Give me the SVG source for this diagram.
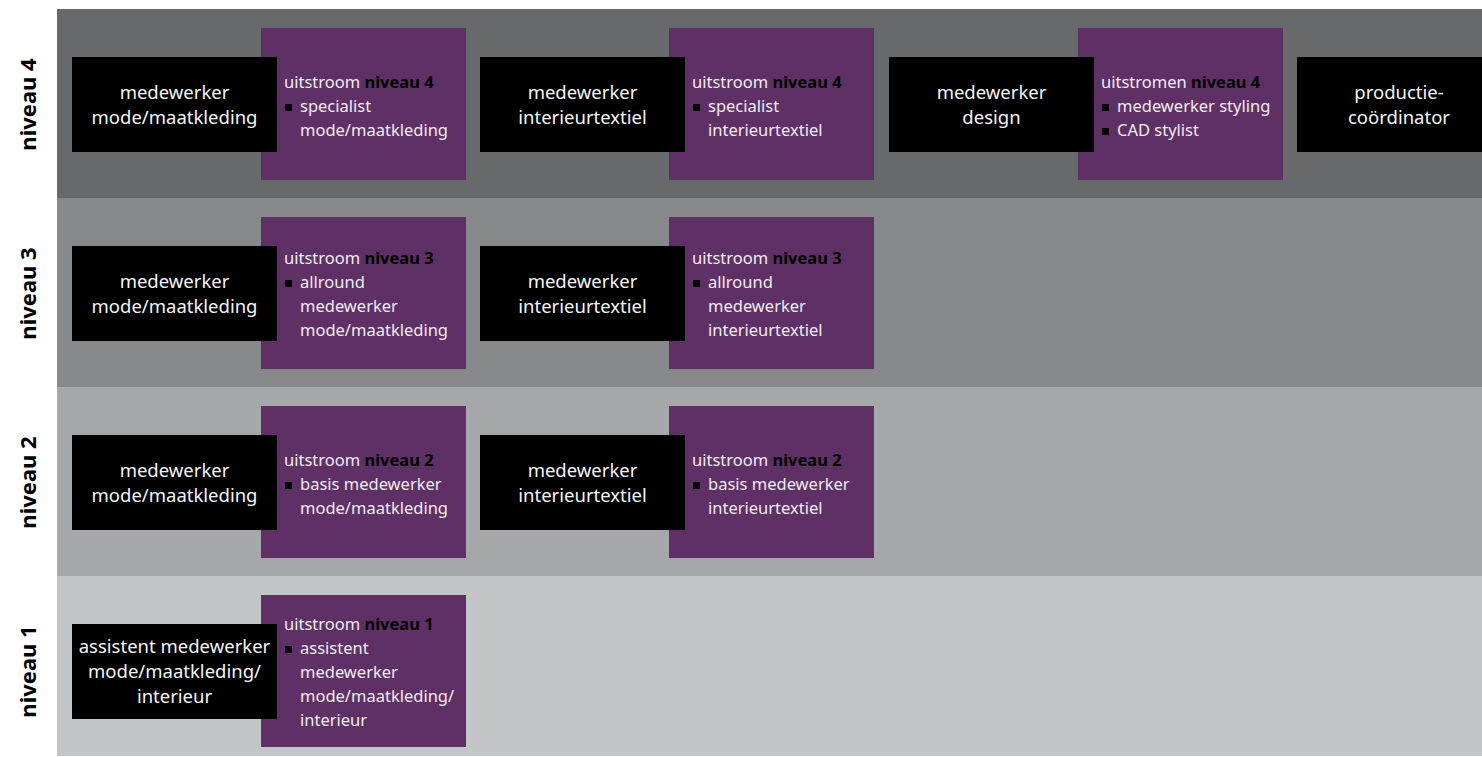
<svg xmlns="http://www.w3.org/2000/svg" width="1482" height="757" viewBox="0 0 1482 757">
<style>
.band1{fill:#68696b}.band2{fill:#87888a}.band3{fill:#a6a7a9}.band4{fill:#c4c5c7}
.blk{fill:#000}.pur{fill:#5e3065}.bul{fill:#000}
.lvl{font-family:"Noto Sans",sans-serif;font-weight:bold;font-size:22px;fill:#000;text-anchor:middle}
.bt{font-family:"Noto Sans",sans-serif;font-size:18.5px;fill:#f5f5f5;text-anchor:middle}
.pt{font-family:"Noto Sans",sans-serif;font-size:16.5px;fill:#f3ecf3}
.b{font-weight:bold;fill:#000}
</style>
<rect width="1482" height="757" fill="#fff"/>
<g id="bands">
<rect class="band1" x="57" y="9" width="1425" height="189"/>
<rect class="band2" x="57" y="198" width="1425" height="189"/>
<rect class="band3" x="57" y="387" width="1425" height="189"/>
<rect class="band4" x="57" y="576" width="1425" height="180"/>
</g>
<g id="levels">
<text class="lvl" transform="translate(36,104.5) rotate(-90)">niveau 4</text>
<text class="lvl" transform="translate(36,293.5) rotate(-90)">niveau 3</text>
<text class="lvl" transform="translate(36,482.5) rotate(-90)">niveau 2</text>
<text class="lvl" transform="translate(36,671.5) rotate(-90)">niveau 1</text>
</g>
<g id="connectors"></g>

<!-- niveau 4 -->
<g id="n4-out-mode">
<rect class="pur" x="261" y="28" width="205" height="152"/>
<text class="pt" x="284" y="88">uitstroom <tspan class="b">niveau 4</tspan></text>
<rect class="bul" x="285" y="104" width="7" height="7"/>
<text class="pt" x="300" y="112">specialist</text>
<text class="pt" x="300" y="136">mode/maatkleding</text>
</g>
<g id="n4-mode">
<rect class="blk" x="72" y="57" width="205" height="95"/>
<text class="bt" x="174.5" y="99">medewerker</text>
<text class="bt" x="174.5" y="124">mode/maatkleding</text>
</g>
<g id="n4-out-int">
<rect class="pur" x="669" y="28" width="205" height="152"/>
<text class="pt" x="692" y="88">uitstroom <tspan class="b">niveau 4</tspan></text>
<rect class="bul" x="693" y="104" width="7" height="7"/>
<text class="pt" x="708" y="112">specialist</text>
<text class="pt" x="708" y="136">interieurtextiel</text>
</g>
<g id="n4-int">
<rect class="blk" x="480" y="57" width="205" height="95"/>
<text class="bt" x="582.5" y="99">medewerker</text>
<text class="bt" x="582.5" y="124">interieurtextiel</text>
</g>
<g id="n4-out-design">
<rect class="pur" x="1078" y="28" width="205" height="152"/>
<text class="pt" x="1101" y="88">uitstromen <tspan class="b">niveau 4</tspan></text>
<rect class="bul" x="1102" y="104" width="7" height="7"/>
<text class="pt" x="1117" y="112">medewerker styling</text>
<rect class="bul" x="1102" y="128" width="7" height="7"/>
<text class="pt" x="1117" y="136">CAD stylist</text>
</g>
<g id="n4-design">
<rect class="blk" x="889" y="57" width="205" height="95"/>
<text class="bt" x="991.5" y="99">medewerker</text>
<text class="bt" x="991.5" y="124">design</text>
</g>
<g id="n4-productie">
<rect class="blk" x="1297" y="57" width="185" height="95"/>
<text class="bt" x="1399" y="99">productie-</text>
<text class="bt" x="1399" y="124">coördinator</text>
</g>

<!-- niveau 3 -->
<g id="n3-out-mode">
<rect class="pur" x="261" y="217" width="205" height="152"/>
<text class="pt" x="284" y="264">uitstroom <tspan class="b">niveau 3</tspan></text>
<rect class="bul" x="285" y="280" width="7" height="7"/>
<text class="pt" x="300" y="288">allround</text>
<text class="pt" x="300" y="312">medewerker</text>
<text class="pt" x="300" y="336">mode/maatkleding</text>
</g>
<g id="n3-mode">
<rect class="blk" x="72" y="246" width="205" height="95"/>
<text class="bt" x="174.5" y="288">medewerker</text>
<text class="bt" x="174.5" y="313">mode/maatkleding</text>
</g>
<g id="n3-out-int">
<rect class="pur" x="669" y="217" width="205" height="152"/>
<text class="pt" x="692" y="264">uitstroom <tspan class="b">niveau 3</tspan></text>
<rect class="bul" x="693" y="280" width="7" height="7"/>
<text class="pt" x="708" y="288">allround</text>
<text class="pt" x="708" y="312">medewerker</text>
<text class="pt" x="708" y="336">interieurtextiel</text>
</g>
<g id="n3-int">
<rect class="blk" x="480" y="246" width="205" height="95"/>
<text class="bt" x="582.5" y="288">medewerker</text>
<text class="bt" x="582.5" y="313">interieurtextiel</text>
</g>

<!-- niveau 2 -->
<g id="n2-out-mode">
<rect class="pur" x="261" y="406" width="205" height="152"/>
<text class="pt" x="284" y="466">uitstroom <tspan class="b">niveau 2</tspan></text>
<rect class="bul" x="285" y="482" width="7" height="7"/>
<text class="pt" x="300" y="490">basis medewerker</text>
<text class="pt" x="300" y="514">mode/maatkleding</text>
</g>
<g id="n2-mode">
<rect class="blk" x="72" y="435" width="205" height="95"/>
<text class="bt" x="174.5" y="477">medewerker</text>
<text class="bt" x="174.5" y="502">mode/maatkleding</text>
</g>
<g id="n2-out-int">
<rect class="pur" x="669" y="406" width="205" height="152"/>
<text class="pt" x="692" y="466">uitstroom <tspan class="b">niveau 2</tspan></text>
<rect class="bul" x="693" y="482" width="7" height="7"/>
<text class="pt" x="708" y="490">basis medewerker</text>
<text class="pt" x="708" y="514">interieurtextiel</text>
</g>
<g id="n2-int">
<rect class="blk" x="480" y="435" width="205" height="95"/>
<text class="bt" x="582.5" y="477">medewerker</text>
<text class="bt" x="582.5" y="502">interieurtextiel</text>
</g>

<!-- niveau 1 -->
<g id="n1-out">
<rect class="pur" x="261" y="595" width="205" height="152"/>
<text class="pt" x="284" y="630">uitstroom <tspan class="b">niveau 1</tspan></text>
<rect class="bul" x="285" y="646" width="7" height="7"/>
<text class="pt" x="300" y="654">assistent</text>
<text class="pt" x="300" y="678">medewerker</text>
<text class="pt" x="300" y="702">mode/maatkleding/</text>
<text class="pt" x="300" y="726">interieur</text>
</g>
<g id="n1-assist">
<rect class="blk" x="72" y="624" width="205" height="95"/>
<text class="bt" x="174.5" y="653">assistent medewerker</text>
<text class="bt" x="174.5" y="678">mode/maatkleding/</text>
<text class="bt" x="174.5" y="703">interieur</text>
</g>
</svg>
